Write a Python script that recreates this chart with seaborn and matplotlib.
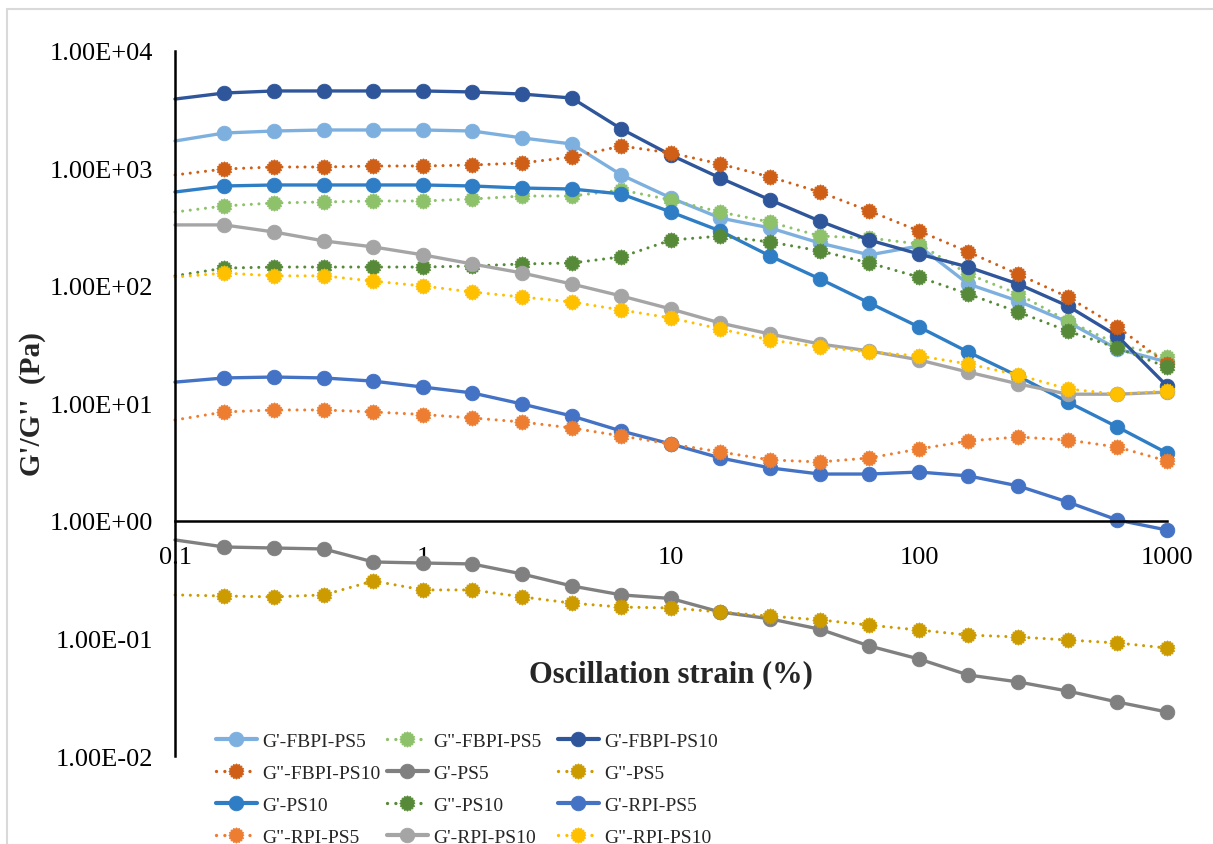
import numpy as np
import pandas as pd
import matplotlib
matplotlib.use("Agg")
import matplotlib.pyplot as plt
import seaborn as sns
from matplotlib.ticker import FixedLocator, FixedFormatter, NullLocator
from matplotlib.patches import Rectangle
from matplotlib.lines import Line2D

# ---------------- data ----------------
strain = [0.1, 0.158, 0.251, 0.398, 0.631, 1, 1.58, 2.51, 3.98, 6.31, 10,
          15.8, 25.1, 39.8, 63.1, 100, 158, 251, 398, 631, 1000]

g1_fbpi_ps5 = [1714, 2005, 2085, 2127, 2127, 2127, 2085, 1820, 1617, 881, 561,
               379, 312, 232, 184, 219, 104, 74.5, 49.4, 29.1, 22.6]
g2_fbpi_ps5 = [426, 480, 509, 519, 529, 529, 550, 583, 583, 656, 540,
               426, 350, 266, 256, 228, 126, 85.5, 50.4, 32.1, 24.9]
g1_fbpi_ps10 = [3900, 4390, 4570, 4570, 4570, 4570, 4480, 4300, 3980, 2170, 1300,
                830, 540, 357, 246, 187, 145, 104, 67.6, 37.5, 14.1]
g2_fbpi_ps10 = [881, 990, 1030, 1030, 1050, 1050, 1071, 1114, 1253, 1554, 1355,
                1092, 847, 631, 435, 294, 195, 126, 80.6, 44.8, 21.7]
g1_ps5 = [0.690, 0.601, 0.589, 0.578, 0.448, 0.439, 0.431, 0.354, 0.280, 0.235, 0.219,
          0.168, 0.147, 0.120, 0.0863, 0.0669, 0.0489, 0.0427, 0.0357, 0.0288, 0.0237]
g2_ps5 = [0.235, 0.230, 0.226, 0.235, 0.309, 0.259, 0.259, 0.226, 0.200, 0.185, 0.182,
          0.168, 0.155, 0.144, 0.130, 0.118, 0.107, 0.103, 0.0971, 0.0916, 0.0830]
g1_ps10 = [631, 710, 724, 724, 724, 724, 710, 682, 669, 607, 426,
           294, 180, 115, 71.7, 44.8, 27.4, 17.1, 10.3, 6.31, 3.79]
g2_ps10 = [122, 142, 145, 145, 145, 145, 148, 154, 157, 177, 246,
           266, 237, 199, 157, 119, 85.5, 60.1, 41.4, 29.7, 20.4]
g1_rpi_ps5 = [15.2, 16.5, 16.8, 16.5, 15.5, 13.8, 12.3, 9.9, 7.83, 5.83, 4.52,
              3.44, 2.83, 2.51, 2.51, 2.61, 2.42, 1.99, 1.45, 1.02, 0.838]
g2_rpi_ps5 = [7.24, 8.47, 8.81, 8.81, 8.47, 8.06, 7.53, 6.96, 6.19, 5.29, 4.52,
              3.87, 3.31, 3.18, 3.44, 4.10, 4.80, 5.19, 4.89, 4.26, 3.24]
g1_rpi_ps10 = [331, 331, 288, 242, 215, 184, 154, 129, 104, 82.2, 63.7,
               48.4, 39.0, 32.1, 28.0, 23.5, 18.5, 14.7, 12.0, 12.0, 12.5]
g2_rpi_ps10 = [119, 129, 122, 122, 110, 100, 88.9, 80.6, 73.1, 62.5, 53.4,
               43.1, 34.7, 30.3, 27.4, 25.4, 21.7, 17.5, 13.3, 12.0, 12.8]

series_names = ["G'-FBPI-PS5", 'G"-FBPI-PS5', "G'-FBPI-PS10",
                'G"-FBPI-PS10', "G'-PS5", 'G"-PS5',
                "G'-PS10", 'G"-PS10', "G'-RPI-PS5",
                'G"-RPI-PS5', "G'-RPI-PS10", 'G"-RPI-PS10']
series_values = [g1_fbpi_ps5, g2_fbpi_ps5, g1_fbpi_ps10,
                 g2_fbpi_ps10, g1_ps5, g2_ps5,
                 g1_ps10, g2_ps10, g1_rpi_ps5,
                 g2_rpi_ps5, g1_rpi_ps10, g2_rpi_ps10]
series_colors = ["#7EB0DF", "#8DC16A", "#2F559A",
                 "#CF5F17", "#808080", "#CC9B00",
                 "#2F7DC5", "#568A38", "#4472C4",
                 "#ED7D31", "#A5A5A5", "#FFC000"]

y_ticks = [1e-2, 1e-1, 1e0, 1e1, 1e2, 1e3, 1e4]
x_ticks = [0.1, 1, 10, 100, 1000]
x_tick_labels = ["0.1", "1", "10", "100", "1000"]

# ---------------- style ----------------
sns.set_theme(style="white")
plt.rcParams["font.family"] = ["Liberation Serif", "DejaVu Serif"]

W, H = 1213, 845
fig = plt.figure(figsize=(W / 100, H / 100), dpi=100)
ax = fig.add_axes([175 / W, 1 - 757 / H, 992 / W, 705 / H])
ax.set_xscale("log")
ax.set_yscale("log")

# jagged round marker (circle with a dotted-looking rim) for the G" series
ang = np.linspace(0, 2 * np.pi, 33)[:-1]
rad = np.where(np.arange(32) % 2 == 0, 1.0, 0.84)
gear = list(zip(rad * np.cos(ang), rad * np.sin(ang)))

dotted = (0, (0.01, 2.5))
handles = []
for name, vals, col in zip(series_names, series_values, series_colors):
    is_loss = name.startswith('G"')
    df = pd.DataFrame({"strain": strain, "G": vals})
    style = dict(color=col,
                 linestyle=dotted if is_loss else "-",
                 linewidth=2.2 if is_loss else 2.4,
                 dash_capstyle="round",
                 marker=gear if is_loss else "o",
                 markersize=11 if is_loss else 10.5,
                 markeredgecolor=col,
                 markeredgewidth=0.6)
    sns.lineplot(data=df, x="strain", y="G", ax=ax, estimator=None, sort=False,
                 legend=False, markevery=list(range(1, len(strain))),
                 clip_on=False, **style)
    leg_style = dict(style)
    leg_style["linewidth"] = style["linewidth"] + (0.6 if not is_loss else 0.2)
    handles.append(Line2D([], [], **leg_style))

ax.set_xlim(0.1, 1000)
ax.set_ylim(1e-2, 1e4)

ax.xaxis.set_major_locator(FixedLocator(x_ticks))
ax.xaxis.set_major_formatter(FixedFormatter(x_tick_labels))
ax.xaxis.set_minor_locator(NullLocator())
ax.yaxis.set_major_locator(FixedLocator(y_ticks))
ax.yaxis.set_major_formatter(plt.FuncFormatter(lambda v, p: f"{v:.2E}"))
ax.yaxis.set_minor_locator(NullLocator())
ax.tick_params(axis="both", length=0, labelsize=19, colors="black")
ax.tick_params(axis="x", pad=18)
ax.tick_params(axis="y", pad=16)

for s in ["top", "right"]:
    ax.spines[s].set_visible(False)
ax.spines["left"].set_color("black")
ax.spines["left"].set_linewidth(1.8)
ax.spines["bottom"].set_color("black")
ax.spines["bottom"].set_linewidth(1.8)
ax.spines["bottom"].set_position(("data", 1))
ax.grid(False)

ax.set_xlabel("Oscillation strain (%)", fontsize=22, fontweight="bold")
ax.xaxis.label.set_va("center")
ax.xaxis.set_label_coords(0.5, (757 - 675) / 705)
ax.set_ylabel("G'/G''  (Pa)", fontsize=21, fontweight="bold")
ax.yaxis.label.set_va("center")
ax.yaxis.set_label_coords((33 - 175) / 992, 0.5)

# legend: 3 columns, filled row by row as in the reference
fs = 14
col_x = [216, 387, 558]
for c in range(3):
    hs = handles[c::3]
    ls = series_names[c::3]
    fig.legend(hs, ls, loc="upper left",
               bbox_to_anchor=(col_x[c] / W, 1 - 733 / H),
               bbox_transform=fig.transFigure,
               frameon=False, fontsize=fs, ncol=1, numpoints=1,
               borderpad=0, borderaxespad=0,
               handlelength=2.1, handletextpad=0.3, labelspacing=0.74)

fig.add_artist(Rectangle((7 / W, -0.05), 1.2, 1 - 10 / H + 0.05,
                         transform=fig.transFigure, fill=False,
                         edgecolor="#D9D9D9", linewidth=1.5))

fig.savefig("out.png", dpi=100)
